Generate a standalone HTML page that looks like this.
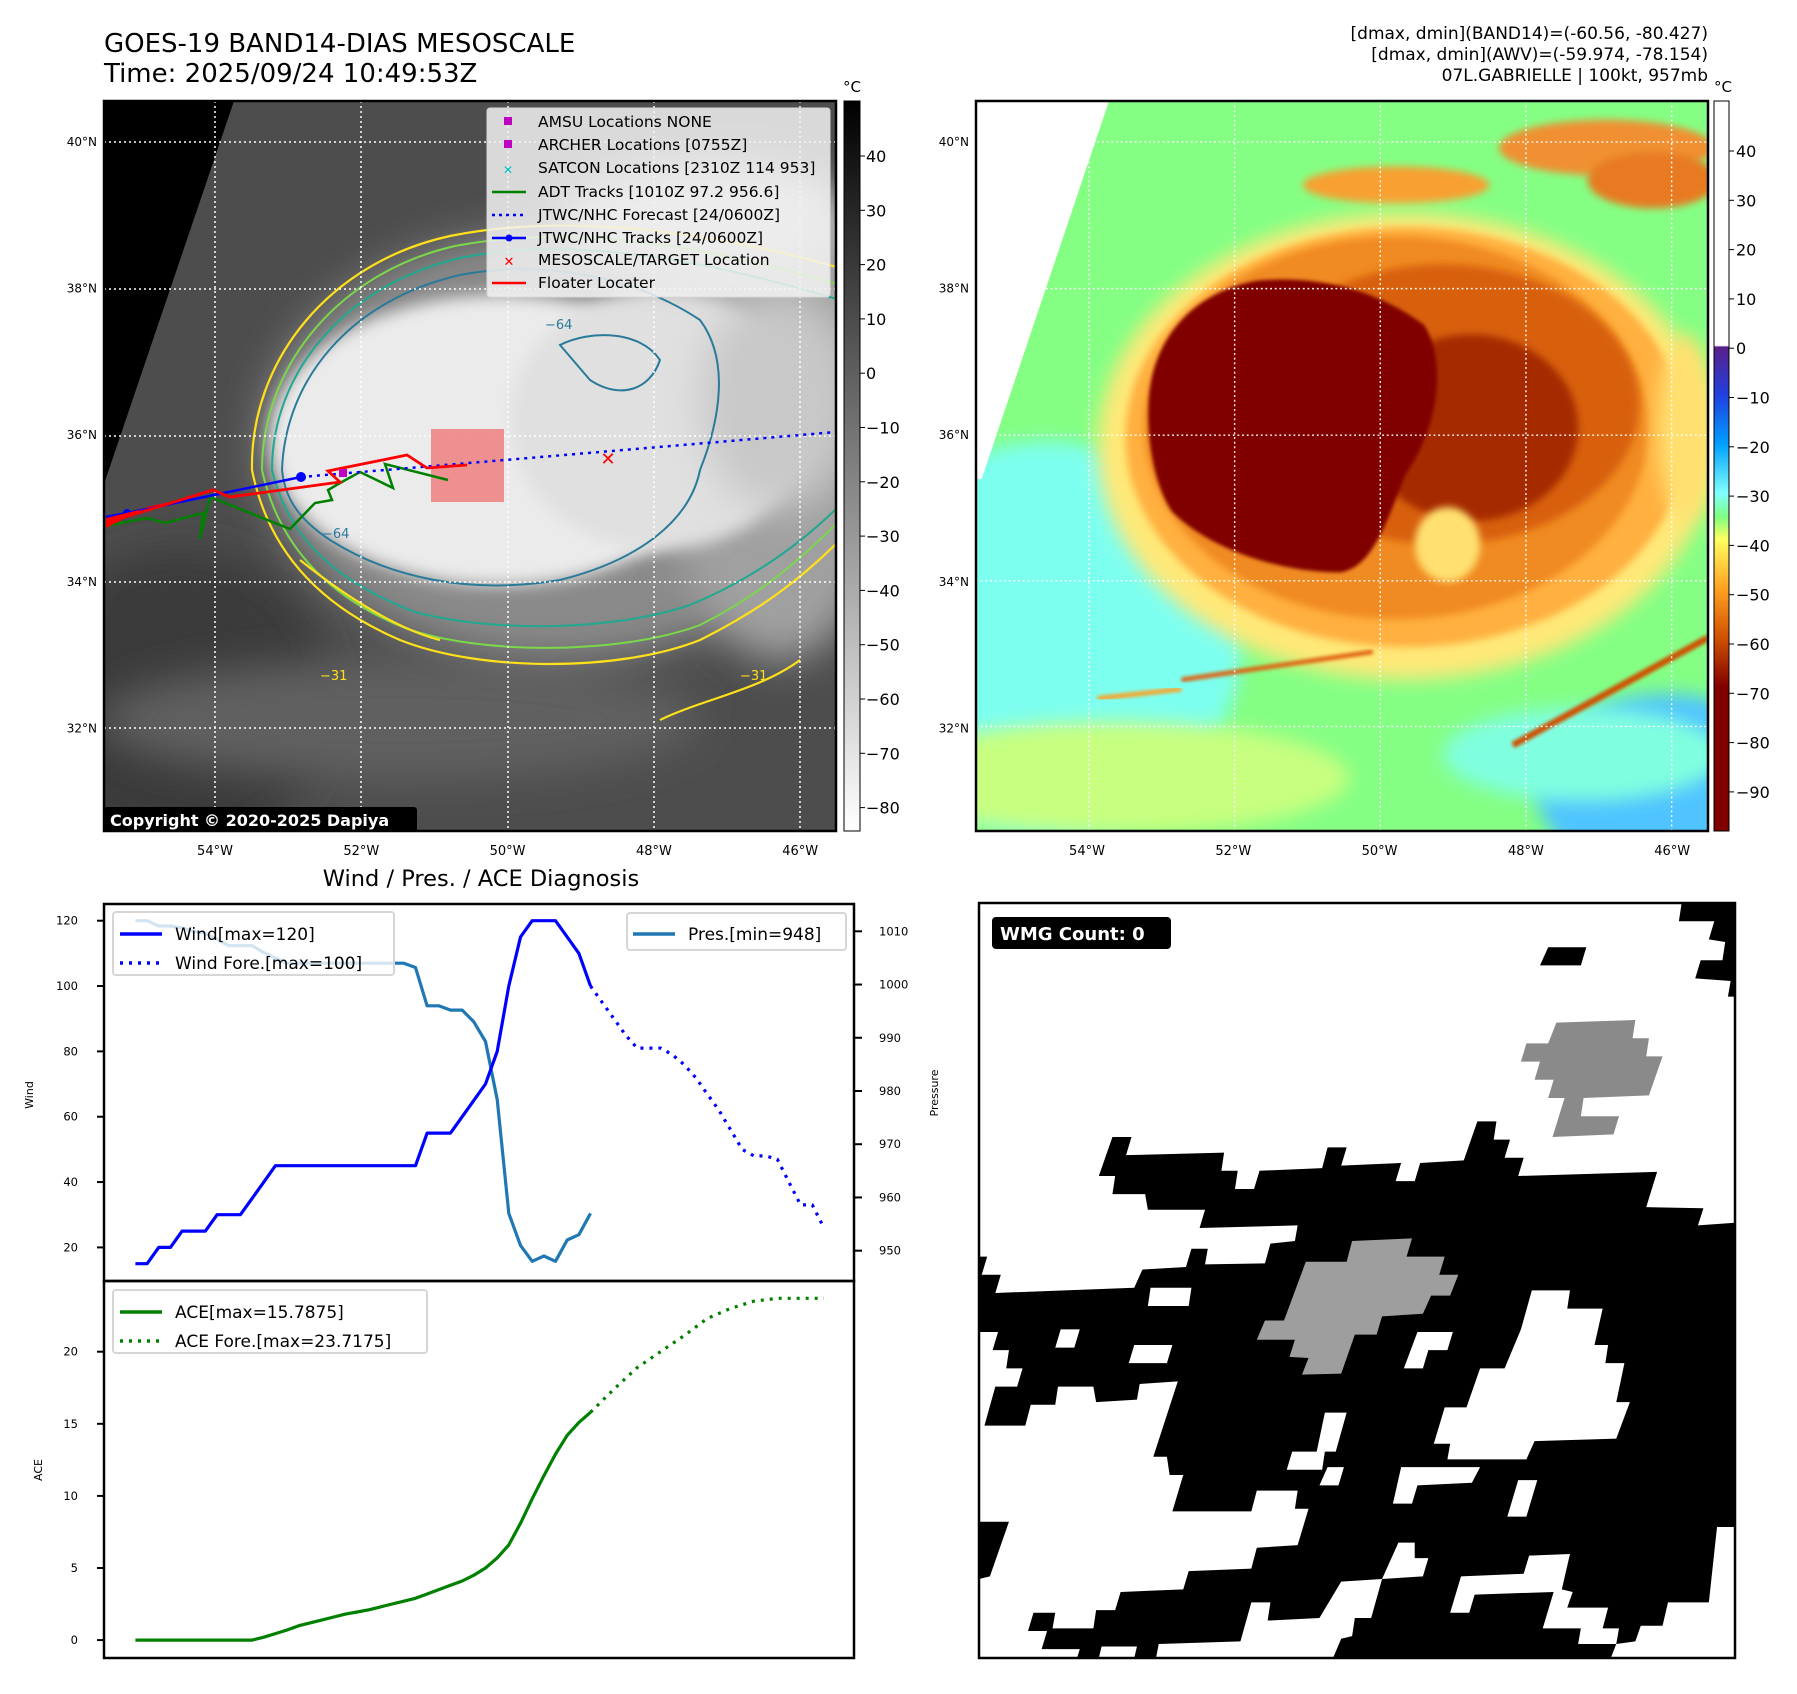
<!DOCTYPE html>
<html><head><meta charset="utf-8">
<style>
html,body{margin:0;padding:0;background:#fff;}
body{width:1797px;height:1690px;overflow:hidden;position:relative;font-family:"DejaVu Sans","Liberation Sans",sans-serif;}
svg text{font-family:"DejaVu Sans","Liberation Sans",sans-serif;}
</style></head>
<body>
<svg id="root" width="1797" height="1690" viewBox="0 0 1797 1690" xmlns="http://www.w3.org/2000/svg">
<defs>
  <filter id="blur8" x="-20%" y="-20%" width="140%" height="140%"><feGaussianBlur stdDeviation="8"/></filter>
  <filter id="blur20" x="-30%" y="-30%" width="160%" height="160%"><feGaussianBlur stdDeviation="20"/></filter>
  <filter id="blur4"><feGaussianBlur stdDeviation="4"/></filter>
  <clipPath id="clipL"><rect x="104" y="101" width="732" height="730"/></clipPath>
  <linearGradient id="cbGray" x1="0" y1="0" x2="0" y2="1">
    <stop offset="0" stop-color="#000"/><stop offset="1" stop-color="#fff"/>
  </linearGradient>
  <linearGradient id="cbJet" x1="0" y1="0" x2="0" y2="1">
    <stop offset="0" stop-color="#fff"/><stop offset="0.335" stop-color="#fff"/>
    <stop offset="0.337" stop-color="#5a1f8a"/><stop offset="0.403" stop-color="#2040e0"/>
    <stop offset="0.47" stop-color="#00a0ff"/><stop offset="0.537" stop-color="#80ffff"/>
    <stop offset="0.57" stop-color="#80ff80"/><stop offset="0.60" stop-color="#ffff60"/>
    <stop offset="0.669" stop-color="#ffa020"/><stop offset="0.736" stop-color="#d05000"/>
    <stop offset="0.803" stop-color="#800000"/><stop offset="1" stop-color="#800000"/>
  </linearGradient>
</defs>

<!-- ===== Titles ===== -->
<text x="104" y="52" font-size="26">GOES-19 BAND14-DIAS MESOSCALE</text>
<text x="104" y="82" font-size="26">Time: 2025/09/24 10:49:53Z</text>
<g font-size="17" text-anchor="end">
  <text x="1708" y="39">[dmax, dmin](BAND14)=(-60.56, -80.427)</text>
  <text x="1708" y="60">[dmax, dmin](AWV)=(-59.974, -78.154)</text>
  <text x="1708" y="81">07L.GABRIELLE | 100kt, 957mb</text>
</g>

<!-- ===== Left map ===== -->
<g>
<g clip-path="url(#clipL)">
  <rect x="104" y="101" width="732" height="730" fill="#4d4d4d"/>
  <ellipse cx="180" cy="700" rx="150" ry="150" fill="#3a3a3a" filter="url(#blur20)"/>
  <ellipse cx="400" cy="720" rx="300" ry="60" fill="#606060" filter="url(#blur20)"/>
  <ellipse cx="560" cy="445" rx="300" ry="215" fill="#8a8a8a" filter="url(#blur20)"/>
  <ellipse cx="780" cy="420" rx="120" ry="240" fill="#a0a0a0" filter="url(#blur20)"/>
  <ellipse cx="500" cy="440" rx="230" ry="145" fill="#ebebeb" filter="url(#blur8)"/>
  <ellipse cx="660" cy="420" rx="150" ry="130" fill="#e0e0e0" filter="url(#blur8)"/>
  <ellipse cx="780" cy="400" rx="80" ry="110" fill="#c8c8c8" filter="url(#blur20)"/>
  <ellipse cx="700" cy="220" rx="140" ry="60" fill="#c8c8c8" filter="url(#blur20)"/>
  <polygon points="104,101 234,101 104,484" fill="#000"/>
  <path d="M252,470 C250,360 330,262 450,236 C560,214 700,228 840,268 L840,540 C800,580 760,610 700,640 C620,672 480,672 400,640 C330,610 270,560 252,470 Z" fill="none" stroke="#ffe01a" stroke-width="2.2"/>
  <path d="M262,470 C262,365 340,272 455,246 C560,226 690,240 840,285 L840,520 C800,560 760,595 700,625 C620,655 480,655 405,628 C335,600 280,552 262,470 Z" fill="none" stroke="#7ad84a" stroke-width="2"/>
  <path d="M272,470 C272,372 345,285 460,258 C560,238 680,252 840,300 L840,505 C800,545 750,580 690,605 C610,632 490,632 415,612 C345,585 290,545 272,470 Z" fill="none" stroke="#20a890" stroke-width="2"/>
  <path d="M282,470 C285,380 350,300 460,275 C550,258 640,280 700,320 C730,360 720,420 700,470 C690,520 640,560 560,580 C470,595 390,578 330,540 C300,520 285,500 282,470 Z" fill="none" stroke="#2a7a9a" stroke-width="2"/>
  <path d="M560,345 C590,330 640,330 660,360 C650,390 620,400 590,380 Z" fill="none" stroke="#2a7a9a" stroke-width="2"/>
  <path d="M660,720 C700,700 760,690 800,660" fill="none" stroke="#ffe01a" stroke-width="2.2"/>
  <path d="M300,560 C350,600 400,630 440,640" fill="none" stroke="#ffe01a" stroke-width="2.2"/>
  <text x="545" y="329" font-size="13" fill="#2a7a9a">−64</text>
  <text x="322" y="538" font-size="13" fill="#2a7a9a">−64</text>
  <text x="320" y="680" font-size="13" fill="#ffe01a">−31</text>
  <text x="740" y="680" font-size="13" fill="#ffe01a">−31</text>
  <g stroke="#fff" stroke-width="1.5" stroke-dasharray="2,3">
    <line x1="215" y1="101" x2="215" y2="831"/><line x1="361" y1="101" x2="361" y2="831"/><line x1="508" y1="101" x2="508" y2="831"/><line x1="654" y1="101" x2="654" y2="831"/><line x1="800" y1="101" x2="800" y2="831"/>
    <line x1="104" y1="142" x2="836" y2="142"/><line x1="104" y1="289" x2="836" y2="289"/><line x1="104" y1="436" x2="836" y2="436"/><line x1="104" y1="582" x2="836" y2="582"/><line x1="104" y1="728" x2="836" y2="728"/>
  </g>
  <rect x="431" y="429" width="73" height="73" fill="#f08080" fill-opacity="0.85"/>
  <polyline points="106,526 147,518 165,523 203,513 200,539 210,497 290,529 315,503 332,500 328,490 340,483 360,472 393,488 385,464 448,480" fill="none" stroke="#008000" stroke-width="2.5"/>
  <polyline points="106,517 127,513 301,477" fill="none" stroke="#0000ff" stroke-width="2.5"/>
  <circle cx="127" cy="513" r="4" fill="#0000ff"/><circle cx="301" cy="477" r="5" fill="#0000ff"/>
  <polyline points="301,477 517,459 836,432" fill="none" stroke="#0000ff" stroke-width="2.5" stroke-dasharray="3,5"/>
  <polyline points="106,523 213,490 230,497 340,482 328,471 407,455 427,468 467,465" fill="none" stroke="#ff0000" stroke-width="2.8"/>
  <polygon points="106,518 213,492 147,507 106,528" fill="#ff0000"/>
  <rect x="339" y="469" width="8" height="8" fill="#c000c0"/>
  <text x="608" y="465" font-size="18" font-weight="bold" fill="#ff0000" text-anchor="middle">✕</text>
  <g>
    <rect x="487" y="108" width="343" height="189" rx="3" fill="#f2f2f2" fill-opacity="0.85" stroke="#d8d8d8"/>
    <rect x="504" y="117" width="8" height="8" fill="#c000c0"/>
    <rect x="504" y="140" width="8" height="8" fill="#c000c0"/>
    <text x="508" y="174" font-size="12" font-weight="bold" fill="#00c0c0" text-anchor="middle">✕</text>
    <line x1="492" y1="192" x2="526" y2="192" stroke="#008000" stroke-width="2.5"/>
    <line x1="492" y1="215" x2="526" y2="215" stroke="#0000ff" stroke-width="2.5" stroke-dasharray="3,4"/>
    <line x1="492" y1="238" x2="526" y2="238" stroke="#0000ff" stroke-width="2.5"/><circle cx="509" cy="238" r="3.5" fill="#0000ff"/>
    <text x="509" y="266" font-size="13" font-weight="bold" fill="#ff0000" text-anchor="middle">✕</text>
    <line x1="492" y1="283" x2="526" y2="283" stroke="#ff0000" stroke-width="2.5"/>
    <g font-size="15.5" fill="#000">
      <text x="538" y="127">AMSU Locations NONE</text>
      <text x="538" y="150">ARCHER Locations [0755Z]</text>
      <text x="538" y="173">SATCON Locations [2310Z 114 953]</text>
      <text x="538" y="197">ADT Tracks [1010Z 97.2 956.6]</text>
      <text x="538" y="220">JTWC/NHC Forecast [24/0600Z]</text>
      <text x="538" y="243">JTWC/NHC Tracks [24/0600Z]</text>
      <text x="538" y="265">MESOSCALE/TARGET Location</text>
      <text x="538" y="288">Floater Locater</text>
    </g>
  </g>
  <rect x="104" y="807" width="313" height="27" rx="3" fill="#000"/>
  <text x="110" y="826" font-size="16" font-weight="bold" fill="#fff">Copyright © 2020-2025 Dapiya</text>
</g>
<rect x="104" y="101" width="732" height="730" fill="none" stroke="#000" stroke-width="2.5"/>
</g>

<g>
  <rect x="844" y="101" width="16" height="730" fill="url(#cbGray)" stroke="#000" stroke-width="1"/>
  <text x="852" y="92" font-size="15" text-anchor="middle">°C</text>
  <g id="cbLticks" font-size="16"></g>
</g>

<!-- ===== Right map ===== -->
<g>
<svg x="976" y="101" width="732" height="730" viewBox="0 0 1568 1564" preserveAspectRatio="none" overflow="hidden">
  <rect x="0" y="0" width="1568" height="1564" fill="#84ff84"/>
  <ellipse cx="150" cy="1150" rx="420" ry="420" fill="#7dfff0" filter="url(#blur20)"/>
  <ellipse cx="300" cy="1450" rx="500" ry="120" fill="#c8ff80" filter="url(#blur20)"/>
  <ellipse cx="1480" cy="1470" rx="280" ry="200" fill="#50c4ff" filter="url(#blur20)"/>
  <ellipse cx="1300" cy="1400" rx="300" ry="100" fill="#80ffe0" filter="url(#blur20)"/>
  <ellipse cx="900" cy="180" rx="200" ry="40" fill="#f8a030" filter="url(#blur8)"/>
  <ellipse cx="1350" cy="100" rx="230" ry="60" fill="#f09030" filter="url(#blur8)"/>
  <ellipse cx="1450" cy="170" rx="140" ry="60" fill="#e87a20" filter="url(#blur8)"/>
  <ellipse cx="920" cy="740" rx="660" ry="500" fill="#ffe878" filter="url(#blur20)"/>
  <ellipse cx="920" cy="720" rx="600" ry="450" fill="#ffb040" filter="url(#blur8)"/>
  <ellipse cx="900" cy="700" rx="540" ry="410" fill="#f08a20" filter="url(#blur8)"/>
  <ellipse cx="1000" cy="650" rx="420" ry="300" fill="#d86010" filter="url(#blur8)"/>
  <ellipse cx="1060" cy="700" rx="230" ry="200" fill="#a52a00" filter="url(#blur8)"/>
  <path d="M370,640 C380,500 470,410 600,385 C760,370 880,420 960,480 C1010,560 990,700 920,800 C880,900 850,1000 780,1010 C650,1010 500,960 420,880 C380,820 365,720 370,640 Z" fill="#800000" filter="url(#blur4)"/>
  <ellipse cx="1010" cy="950" rx="70" ry="80" fill="#ffe070" filter="url(#blur8)"/>
  <ellipse cx="1520" cy="700" rx="60" ry="200" fill="#ffe070" filter="url(#blur20)"/>
  <path d="M440,1240 L850,1180" stroke="#e06010" stroke-width="10" filter="url(#blur4)"/>
  <path d="M1150,1380 L1568,1150" stroke="#d05000" stroke-width="14" filter="url(#blur4)"/>
  <path d="M260,1280 L440,1260" stroke="#ffa020" stroke-width="10" filter="url(#blur4)"/>
  <polygon points="0,0 285,0 12,810 0,810" fill="#fff"/>
  <g stroke="#fff" stroke-width="3" stroke-dasharray="4,6">
    <line x1="242" y1="0" x2="242" y2="1564"/><line x1="554" y1="0" x2="554" y2="1564"/><line x1="866" y1="0" x2="866" y2="1564"/><line x1="1178" y1="0" x2="1178" y2="1564"/><line x1="1490" y1="0" x2="1490" y2="1564"/>
    <line x1="0" y1="88" x2="1568" y2="88"/><line x1="0" y1="402" x2="1568" y2="402"/><line x1="0" y1="716" x2="1568" y2="716"/><line x1="0" y1="1028" x2="1568" y2="1028"/><line x1="0" y1="1340" x2="1568" y2="1340"/>
  </g>
</svg>
<rect x="976" y="101" width="732" height="730" fill="none" stroke="#000" stroke-width="2.5"/>
</g>

<g>
  <rect x="1714" y="101" width="15" height="730" fill="url(#cbJet)" stroke="#000" stroke-width="1"/>
  <text x="1723" y="92" font-size="15" text-anchor="middle">°C</text>
  <g id="cbRticks" font-size="16"></g>
</g>

<g id="mapTicks" font-size="12"></g>

<!-- ===== Bottom-left chart ===== -->
<text x="481" y="886" font-size="22.5" text-anchor="middle">Wind / Pres. / ACE Diagnosis</text>
<g id="chart"></g>

<!-- ===== WMG panel ===== -->
<g>
<svg x="979" y="903" width="756" height="755" viewBox="55 45 1388 1452" preserveAspectRatio="none">
  <rect x="55" y="45" width="1388" height="1452" fill="#fff"/>
  <polygon fill="#000" points="55,725 70,725 60,760 95,760 85,795 340,785 355,750 435,745 445,710 475,710 470,740 580,738 590,700 635,695 640,665 460,670 470,635 365,635 360,605 300,605 305,570 275,570 300,495 335,495 325,530 505,525 500,560 530,560 525,595 560,595 570,560 685,555 695,515 730,515 720,550 830,545 820,580 855,580 865,545 945,540 970,465 1005,465 1000,500 1030,500 1020,535 1055,535 1045,570 1300,562 1280,630 1385,632 1375,665 1443,660 1443,1497 55,1497"/>
  <g fill="#fff">
    <polygon points="55,870 90,870 80,905 110,905 105,940 135,940 125,975 85,975 65,1050 140,1050 150,1010 195,1010 200,975 265,975 270,1005 345,1000 350,970 420,965 375,1110 400,1110 405,1145 430,1145 410,1215 555,1215 565,1175 640,1175 635,1210 660,1210 640,1280 565,1285 555,1325 440,1330 430,1365 315,1370 305,1405 270,1405 265,1440 190,1440 195,1410 155,1410 145,1445 180,1445 170,1480 240,1480 235,1497 55,1497 55,1345 75,1340 110,1235 55,1235"/>
    <polygon points="380,1497 385,1470 535,1465 555,1390 590,1390 585,1425 680,1420 720,1350 795,1345 775,1420 745,1420 740,1455 720,1460 705,1497"/>
    <polygon points="275,1497 280,1475 345,1475 340,1497"/>
    <polygon points="1070,790 1140,790 1135,825 1200,825 1185,895 1210,895 1205,930 1240,930 1225,1005 1250,1005 1225,1075 1075,1080 1060,1115 915,1115 920,1085 890,1085 910,1015 950,1015 975,940 1020,940 1050,865"/>
    <polygon points="1065,1300 1140,1297 1125,1365 1145,1370 1135,1400 1210,1400 1200,1440 1230,1440 1225,1470 1155,1470 1160,1440 1090,1440 1110,1370 965,1375 955,1410 920,1410 940,1340 1055,1335"/>
    <polygon points="1410,1245 1443,1245 1443,1497 1215,1497 1225,1470 1260,1465 1270,1435 1310,1435 1320,1390 1395,1390"/>
    <polygon points="830,1130 975,1130 960,1160 860,1165 850,1200 815,1200"/>
    <polygon points="825,1275 855,1275 855,1305 880,1305 870,1340 795,1345"/>
    <polygon points="370,785 445,785 440,820 365,820"/>
    <polygon points="205,865 240,865 230,900 195,900"/>
    <polygon points="340,895 410,895 400,930 330,930"/>
    <polygon points="860,870 925,870 915,905 880,905 870,940 835,940"/>
    <polygon points="690,1025 730,1025 710,1100 690,1100 685,1135 620,1135 630,1100 675,1100"/>
    <polygon points="695,1130 725,1130 715,1165 680,1165"/>
    <polygon points="1045,1155 1080,1155 1060,1225 1025,1225"/>
  </g>
  <polygon fill="#000" points="1100,130 1170,130 1160,165 1085,165"/>
  <polygon fill="#000" points="1345,45 1443,45 1443,225 1430,225 1435,195 1370,190 1380,155 1420,155 1425,120 1395,115 1405,80 1340,80"/>
  <polygon fill="#9e9e9e" points="740,695 850,690 840,725 910,725 900,760 935,760 920,800 885,800 870,835 795,840 785,875 745,875 720,950 648,952 660,920 625,918 635,885 565,885 580,848 615,848 655,735 730,735"/>
  <polygon fill="#8a8a8a" points="1115,275 1260,270 1255,305 1285,305 1280,340 1310,340 1285,415 1165,420 1160,455 1230,455 1220,490 1108,495 1130,420 1100,420 1110,385 1075,385 1085,350 1050,350 1060,315 1100,315"/>
</svg>
<rect x="979" y="903" width="756" height="755" fill="none" stroke="#000" stroke-width="2.5"/>
<rect x="992" y="917" width="179" height="32" rx="4" fill="#000"/>
<text x="1000" y="940" font-size="18" font-weight="bold" fill="#fff">WMG Count: 0</text>
</g>
</svg>

<script>
// ---------- chart data ----------
const obsIndex = [0,1,2,3,4,5,6,7,8,9,10,11,12,13,14,15,16,17,18,19,20,21,22,23,24,25,26,27,28,29,30,31,32,33,34,35,36,37,38,39];
const windObs = [15,15,20,20,25,25,25,30,30,30,35,40,45,45,45,45,45,45,45,45,45,45,45,45,45,55,55,55,60,65,70,80,100,115,120,120,120,115,110,100];
const presObs = [1012,1012,1011,1011,1010.6,1010,1009.6,1008.5,1007.3,1007.3,1007.3,1006,1005,1004,1004,1004,1004,1004,1004,1004,1004,1004,1004,1004,1003.2,996,996,995.2,995.2,993,989.3,978.4,957,951,948,949,948,952,953,957];
const aceObs = [0,0,0,0,0,0,0,0,0,0,0,0.2,0.45,0.7,1.0,1.2,1.4,1.6,1.8,1.95,2.1,2.3,2.5,2.7,2.9,3.2,3.5,3.8,4.1,4.5,5.0,5.7,6.6,8.1,9.8,11.4,12.9,14.2,15.1,15.8];
const foreIndex = [39,40,41,42,43,44,45,46,47,48,49,50,51,52,53,54,55,56,57,58,59];
const windFore = [100,95,90,85,81,81,81,79,76,72,67,62,56,50,48,48,47,40,33,33,26];
const aceForeIndex = [39,41,43,45,47,49,51,53,55,57,59];
const aceFore = [15.8,17.4,18.9,20,21.1,22.3,23,23.5,23.7,23.7,23.7];
const windTicks = [20,40,60,80,100,120];
const presTicks = [950,960,970,980,990,1000,1010];
const aceTicks = [0,5,10,15,20];
const cbLeftTicks = [40,30,20,10,0,-10,-20,-30,-40,-50,-60,-70,-80];
const cbRightTicks = [40,30,20,10,0,-10,-20,-30,-40,-50,-60,-70,-80,-90];
const latLabels = ['40°N','38°N','36°N','34°N','32°N'];
const lonLabels = ['54°W','52°W','50°W','48°W','46°W'];

// ---------- axis functions ----------
const NS = 'http://www.w3.org/2000/svg';
const xS = i => 135.4 + 11.67 * i;
const yWind = v => 920.7 + (120 - v) * 3.267;
const yPres = v => 931.3 + (1010 - v) * 5.323;
const yAce = v => 1640.1 - v * 14.42;
const yCbL = v => 156 + (40 - v) * 5.43;
const yCbR = v => 151 + (40 - v) * 4.93;
const latY = k => 142 + k * 146.6;
const lonX = k => 215 + k * 146.3;

function mk(tag, attrs, parent) {
  const e = document.createElementNS(NS, tag);
  for (const k in attrs) e.setAttribute(k, attrs[k]);
  parent.appendChild(e);
  return e;
}
function line(idx, vals, xf, yf, color, dash, parent, name) {
  const pts = idx.map((i, k) => xf(i).toFixed(1) + ',' + yf(vals[k]).toFixed(1)).join(' ');
  const p = mk('polyline', {points: pts, fill: 'none', stroke: color, 'stroke-width': 3.2, 'stroke-linejoin': 'round'}, parent);
  if (dash) p.setAttribute('stroke-dasharray', dash);
  
  
  return p;
}

const chart = document.getElementById('chart');
const fr1 = mk('rect', {x: 104, y: 904, width: 750, height: 377, fill: 'none', stroke: '#000', 'stroke-width': 2.5}, chart);


const fr2 = mk('rect', {x: 104, y: 1281, width: 750, height: 377, fill: 'none', stroke: '#000', 'stroke-width': 2.5}, chart);



windTicks.forEach(v => {
  mk('line', {x1: 97, x2: 104, y1: yWind(v), y2: yWind(v), stroke: '#000', 'stroke-width': 2}, chart);
  const t = mk('text', {x: 78, y: yWind(v) + 4, 'font-size': 11.5, 'text-anchor': 'end'}, chart);
  t.textContent = v;
  
  
});
presTicks.forEach(v => {
  mk('line', {x1: 854, x2: 862, y1: yPres(v), y2: yPres(v), stroke: '#000', 'stroke-width': 2}, chart);
  const t = mk('text', {x: 879, y: yPres(v) + 4, 'font-size': 11.5}, chart);
  t.textContent = v;
  
  
});
aceTicks.forEach(v => {
  mk('line', {x1: 97, x2: 104, y1: yAce(v), y2: yAce(v), stroke: '#000', 'stroke-width': 2}, chart);
  const t = mk('text', {x: 78, y: yAce(v) + 4, 'font-size': 11.5, 'text-anchor': 'end'}, chart);
  t.textContent = v;
  
  
});
function rotLabel(txt, x, y, name) {
  const t = mk('text', {x: x, y: y, 'font-size': 11, 'text-anchor': 'middle', transform: 'rotate(-90 ' + x + ' ' + y + ')'}, chart);
  t.textContent = txt;
  
  
}
rotLabel('Wind', 33, 1095, 'wind-axis-title');
rotLabel('Pressure', 938, 1093, 'pressure-axis-title');
rotLabel('ACE', 42, 1470, 'ace-axis-title');

line(obsIndex, presObs, xS, yPres, '#1f77b4', null, chart, 'pressure-line');
line(obsIndex, windObs, xS, yWind, '#0000ff', null, chart, 'wind-line');
line(foreIndex, windFore, xS, yWind, '#0000ff', '3,6', chart, 'wind-forecast-line');
line(obsIndex, aceObs, xS, yAce, '#008000', null, chart, 'ace-line');
line(aceForeIndex, aceFore, xS, yAce, '#008000', '3,6', chart, 'ace-forecast-line');

function legendBox(x, y, w, h, name) {
  const r = mk('rect', {x: x, y: y, width: w, height: h, rx: 3, fill: '#fff', 'fill-opacity': 0.8, stroke: '#d6d6d6', 'stroke-width': 2}, chart);
  
  
}
function legendEntry(x, y, color, dash, txt, name) {
  const l = mk('line', {x1: x, x2: x + 42, y1: y - 6, y2: y - 6, stroke: color, 'stroke-width': 3.5}, chart);
  if (dash) l.setAttribute('stroke-dasharray', dash);
  const t = mk('text', {x: x + 55, y: y, 'font-size': 17}, chart);
  t.textContent = txt;
  
  
}
legendBox(113, 912, 281, 63, 'wind-legend');
legendEntry(120, 940, '#0000ff', null, 'Wind[max=120]', 'legend-wind');
legendEntry(120, 969, '#0000ff', '3,6', 'Wind Fore.[max=100]', 'legend-wind-forecast');
legendBox(627, 913, 219, 37, 'pressure-legend');
legendEntry(633, 940, '#1f77b4', null, 'Pres.[min=948]', 'legend-pressure');
legendBox(113, 1290, 314, 63, 'ace-legend');
legendEntry(120, 1318, '#008000', null, 'ACE[max=15.7875]', 'legend-ace');
legendEntry(120, 1347, '#008000', '3,6', 'ACE Fore.[max=23.7175]', 'legend-ace-forecast');

const gL = document.getElementById('cbLticks');
cbLeftTicks.forEach(v => {
  mk('line', {x1: 860, x2: 865, y1: yCbL(v), y2: yCbL(v), stroke: '#000'}, gL);
  const t = mk('text', {x: 866, y: yCbL(v) + 6}, gL);
  t.textContent = String(v).replace('-', '−');
  
  
});
const gR = document.getElementById('cbRticks');
cbRightTicks.forEach(v => {
  mk('line', {x1: 1729, x2: 1734, y1: yCbR(v), y2: yCbR(v), stroke: '#000'}, gR);
  const t = mk('text', {x: 1736, y: yCbR(v) + 6}, gR);
  t.textContent = String(v).replace('-', '−');
  
  
});

const gM = document.getElementById('mapTicks');
[0, 872].forEach(off => {
  latLabels.forEach((s, k) => {
    const t = mk('text', {x: 97 + off, y: latY(k) + 4, 'text-anchor': 'end', 'font-size': 12}, gM);
    t.textContent = s;
    
    
  });
  lonLabels.forEach((s, k) => {
    const t = mk('text', {x: lonX(k) + off, y: 855, 'text-anchor': 'middle', 'font-size': 13}, gM);
    t.textContent = s;
    
    
  });
});
</script>
</body></html>
